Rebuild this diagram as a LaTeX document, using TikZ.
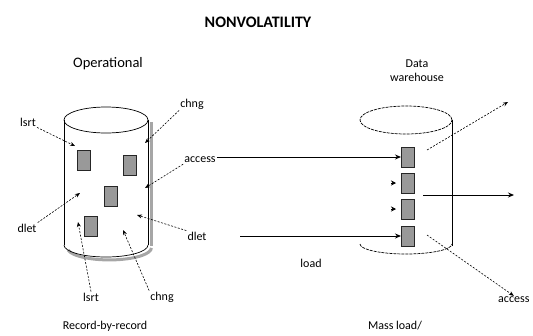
\documentclass[tikz,border=0pt]{standalone}
\usepackage{fontspec}
\setmainfont{Carlito}
\usetikzlibrary{arrows.meta}
\begin{document}
\begin{tikzpicture}[x=1pt,y=-1pt,
  lbl/.style={font=\fontsize{12}{12}\selectfont, inner sep=1pt},
  sq/.style={draw=black!85, line width=1pt, fill=black!40, minimum width=13pt, minimum height=20pt, inner sep=0pt},
  darr/.style={dash pattern=on 2pt off 1.5pt, -{Stealth[length=5pt,width=4pt]}, line width=0.6pt},
  sarr/.style={-{Stealth[length=6pt,width=5pt]}, line width=0.9pt},
  cyl/.style={line width=0.7pt},
  tip/.style={-{Stealth[length=5pt,width=5pt]}, line width=0.6pt}]
\useasboundingbox (0,0) rectangle (533,335);

% title and headings
\node[font=\bfseries\fontsize{16}{16}\selectfont] (title) at (258,22) {NONVOLATILITY};
\node[lbl, font=\fontsize{14.5}{14.5}\selectfont] (oper) at (108,64) {Operational};
\node[lbl, align=center] (dw) at (417,71) {Data\\[2pt]warehouse};

% left cylinder
\draw[black!35, line width=3pt] (151,122) -- (151,246);
\draw[black!35, line width=3pt] (68,250) arc[start angle=190, end angle=360, x radius=42pt, y radius=12pt];
\draw[cyl] (106,120) ellipse [x radius=42pt, y radius=13pt];
\draw[cyl] (64,120) -- (64,245);
\draw[cyl] (148,120) -- (148,245);
\draw[cyl] (64,245) arc[start angle=180, end angle=360, x radius=42pt, y radius=12pt];

% right cylinder
\draw[cyl, dash pattern=on 3pt off 1pt] (406,120) ellipse [x radius=46pt, y radius=14pt];
\draw[cyl] (452,120) -- (452,246);
\draw[cyl, dash pattern=on 3pt off 1pt] (360,244) arc[start angle=180, end angle=360, x radius=46pt, y radius=10pt];

% left squares
\node[sq] (s1) at (84,160) {};
\node[sq] (s2) at (130,165) {};
\node[sq] (s3) at (111,196) {};
\node[sq] (s4) at (91,226) {};

% right squares
\node[sq] (r1) at (408,157) {};
\node[sq] (r2) at (408,183) {};
\node[sq] (r3) at (408,209) {};
\node[sq] (r4) at (408,236) {};

% labels around left cylinder
\node[lbl] (lsrtA) at (28,122) {lsrt};
\node[lbl] (chngA) at (192,104) {chng};
\node[lbl] (acc) at (200,160) {access};
\node[lbl] (dletA) at (27,228) {dlet};
\node[lbl] (dletB) at (197,236) {dlet};
\node[lbl] (lsrtB) at (91,297) {lsrt};
\node[lbl] (chngB) at (162,297) {chng};
\node[lbl] (load) at (311,263) {load};

\coordinate (tA) at (75,146);
\coordinate (tB) at (145,143);
\coordinate (tC) at (145,188);
\coordinate (tD) at (80,193);
\coordinate (tE) at (137,215);
\coordinate (tF) at (78,222);
\coordinate (tG) at (123,230);

\draw[darr] (lsrtA.south east) -- (tA);
\draw[darr] (chngA.south west) -- (tB);
\draw[darr] (acc.south west) -- (tC);
\draw[darr] (dletA.north east) -- (tD);
\draw[darr] (dletB.north west) -- (tE);
\draw[darr] (lsrtB.north) -- (tF);
\draw[darr] (chngB.north west) -- (tG);

% transfer lines
\draw[sarr] (acc.east |- r1.west) -- (r1.west);
\coordinate (ls) at (240,236);
\draw[sarr] (ls) -- (r4.west);

% small tips between squares
\coordinate (p2) at (391,183);
\coordinate (p3) at (391,209);
\draw[tip] (p2) -- ++(5,0);
\draw[tip] (p3) -- ++(5,0);

% outgoing arrows
\coordinate (o1s) at (427,150);
\coordinate (o1e) at (508,102);
\coordinate (o2s) at (423,195);
\coordinate (o2e) at (514,195);
\coordinate (o3s) at (427,235);
\node[lbl, anchor=west] (acc2) at (497,300) {access};
\draw[darr] (o1s) -- (o1e);
\draw[sarr] (o2s) -- (o2e);
\draw[darr] (o3s) -- (acc2.north);

% bottom captions
\node[lbl] (capL) at (105,326) {Record-by-record};
\node[lbl] (capR) at (395,326) {Mass load/};
\end{tikzpicture}
\end{document}
